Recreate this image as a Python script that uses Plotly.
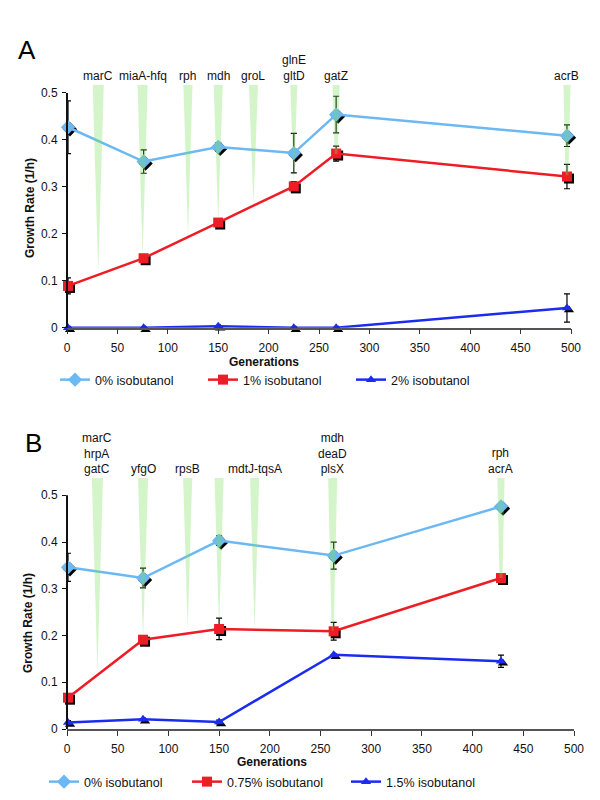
import plotly.graph_objects as go

W, H = 600, 800

# ---------------- Panel A data ----------------
gen_A = [1, 76, 150, 225, 267, 496]
rate0_A = [0.427, 0.354, 0.385, 0.372, 0.454, 0.409]
err0_A = [0.056, 0.025, 0.009, 0.042, 0.039, 0.023]
rate1_A = [0.089, 0.148, 0.224, 0.301, 0.371, 0.322]
err1_A = [0.017, 0.005, 0.008, 0.010, 0.016, 0.026]
rate2_A = [0.0, 0.0, 0.003, 0.0, 0.0, 0.042]
err2_A = [0.0, 0.0, 0.0, 0.0, 0.0, 0.030]
names_A = ["0% isobutanol", "1% isobutanol", "2% isobutanol"]

mut_labels_A = ["marC", "miaA-hfq", "rph", "mdh", "groL", "glnE<br>gltD", "gatZ", "acrB"]
mut_gen_A = [31, 75, 120, 150, 185, 225, 267, 496]
mut_end_A = [0.116, 0.151, 0.194, 0.226, 0.262, 0.300, 0.370, 0.325]

# ---------------- Panel B data ----------------
gen_B = [1, 75, 150, 263, 428]
rate0_B = [0.346, 0.323, 0.403, 0.371, 0.476]
err0_B = [0.030, 0.021, 0.010, 0.029, 0.0]
rate1_B = [0.067, 0.191, 0.214, 0.209, 0.323]
err1_B = [0.0, 0.004, 0.023, 0.019, 0.0]
rate2_B = [0.014, 0.021, 0.015, 0.159, 0.145]
err2_B = [0.004, 0.0, 0.004, 0.0, 0.013]
names_B = ["0% isobutanol", "0.75% isobutanol", "1.5% isobutanol"]

mut_labels_B = ["marC<br>hrpA<br>gatC", "yfgO", "rpsB", "", "mdtJ-tqsA", "mdh<br>deaD<br>plsX", "rph<br>acrA"]
mut_gen_B = [30, 75, 119, 150, 185, 262, 428]
mut_end_B = [0.123, 0.190, 0.212, 0.212, 0.213, 0.210, 0.323]

x_ticks = [0, 50, 100, 150, 200, 250, 300, 350, 400, 450, 500]
y_ticks = [0, 0.1, 0.2, 0.3, 0.4, 0.5]
y_ticktext = ["0", "0.1", "0.2", "0.3", "0.4", "0.5"]

# ---------------- styles ----------------
FONT = "Liberation Sans, Arial, Helvetica, sans-serif"
COLORS = ["#6cb8f2", "#ee1c25", "#1b2cf0"]
SYMBOLS = ["diamond", "square", "triangle-up"]
SIZES = [11, 10, 9]
WEDGE_FILL = "rgba(120,225,90,0.32)"
wedge_top_w_A = [11, 10, 9, 9, 9, 7, 7, 7]
wedge_bot_w_A = [0, 0, 0, 0, 0, 0, 3, 3]
wedge_top_w_B = [11, 10, 9, 9, 9, 9, 7]
wedge_bot_w_B = [0, 0, 0, 0, 0, 2, 3]

# pixel geometry of the panels
PANELS = {
    "A": dict(left=67, right=571, bottom=327.7, top=85, ytop=0.517),
    "B": dict(left=67, right=574, bottom=729, top=478, ytop=0.537),
}
SHADOW_DX, SHADOW_DY = 2, 2


def xdom(l, r):
    return [l / W, r / W]


def ydom(t, b):
    return [1 - b / H, 1 - t / H]


fig = go.Figure()


def add_panel(key, shadow_ax, main_ax, gens, rates, errs, names, legends,
              mut_gen, mut_end, mut_labels, wtop, wbot):
    p = PANELS[key]
    sx, sy = ("x" if shadow_ax == 1 else f"x{shadow_ax}"), ("y" if shadow_ax == 1 else f"y{shadow_ax}")
    mx, my = f"x{main_ax}", f"y{main_ax}"
    # shadow markers (drawn first, on shifted hidden axes)
    for i in range(3):
        fig.add_trace(go.Scatter(
            x=gens, y=rates[i], mode="markers", xaxis=sx, yaxis=sy,
            marker=dict(symbol=SYMBOLS[i], size=SIZES[i], color="black"),
            showlegend=False, hoverinfo="skip", cliponaxis=False))
    # main series
    for i in range(3):
        fig.add_trace(go.Scatter(
            x=gens, y=rates[i], mode="lines+markers", xaxis=mx, yaxis=my,
            name=names[i], legend=legends[i],
            line=dict(color=COLORS[i], width=2.5),
            marker=dict(symbol=SYMBOLS[i], size=SIZES[i], color=COLORS[i]),
            error_y=dict(type="data", array=errs[i], visible=True,
                         color="black", thickness=1.2, width=3),
            cliponaxis=False))
    # mutation wedges (translucent, on top)
    top = p["ytop"]
    for g, e, wt, wb in zip(mut_gen, mut_end, wtop, wbot):
        fig.add_trace(go.Scatter(
            x=[g - wt / 2, g + wt / 2, g + wb / 2, g - wb / 2, g - wt / 2],
            y=[top, top, e, e, top], mode="lines", fill="toself",
            fillcolor=WEDGE_FILL, line=dict(width=0),
            xaxis=mx, yaxis=my, showlegend=False, hoverinfo="skip"))
    for g, lab in zip(mut_gen, mut_labels):
        if lab:
            fig.add_annotation(x=g, y=top, xref=mx, yref=my, text=lab,
                               showarrow=False, xanchor="center", yanchor="bottom",
                               font=dict(family=FONT, size=12, color="#111"))


add_panel("A", 1, 2, gen_A, [rate0_A, rate1_A, rate2_A], [err0_A, err1_A, err2_A],
          names_A, ["legend", "legend2", "legend3"],
          mut_gen_A, mut_end_A, mut_labels_A, wedge_top_w_A, wedge_bot_w_A)
add_panel("B", 3, 4, gen_B, [rate0_B, rate1_B, rate2_B], [err0_B, err1_B, err2_B],
          names_B, ["legend4", "legend5", "legend6"],
          mut_gen_B, mut_end_B, mut_labels_B, wedge_top_w_B, wedge_bot_w_B)

tickfont = dict(family=FONT, size=12, color="#111")
layout_axes = {}
for key, s, m in (("A", 1, 2), ("B", 3, 4)):
    p = PANELS[key]
    xd = xdom(p["left"], p["right"])
    yd = ydom(p["top"], p["bottom"])
    xds = xdom(p["left"] + SHADOW_DX, p["right"] + SHADOW_DX)
    yds = ydom(p["top"] + SHADOW_DY, p["bottom"] + SHADOW_DY)
    sxn = "xaxis" if s == 1 else f"xaxis{s}"
    syn = "yaxis" if s == 1 else f"yaxis{s}"
    layout_axes[sxn] = dict(domain=xds, range=[0, 500], visible=False, anchor="y" if s == 1 else f"y{s}")
    layout_axes[syn] = dict(domain=yds, range=[0, p["ytop"]], visible=False, anchor="x" if s == 1 else f"x{s}")
    layout_axes[f"xaxis{m}"] = dict(
        domain=xd, range=[0, 500], anchor=f"y{m}", tickvals=x_ticks,
        showline=True, linecolor="#555", linewidth=1.5, ticks="outside",
        ticklen=5, tickcolor="#333", tickwidth=1, showgrid=False, zeroline=False,
        tickfont=tickfont, automargin=False, ticklabelstandoff=3)
    layout_axes[f"yaxis{m}"] = dict(
        domain=yd, range=[0, p["ytop"]], anchor=f"x{m}", tickvals=y_ticks,
        ticktext=y_ticktext, showline=False, ticks="outside", ticklen=4,
        tickcolor="#111", tickwidth=1.2, showgrid=False, zeroline=False,
        tickfont=tickfont, automargin=False, ticklabelstandoff=2)
    # y axis line stopping at 0.5
    y0p = yd[0]
    y1p = yd[0] + (0.5 / p["ytop"]) * (yd[1] - yd[0])
    fig.add_shape(type="line", xref="paper", yref="paper", x0=xd[0], x1=xd[0],
                  y0=y0p, y1=y1p, line=dict(color="#111", width=2), layer="above")

fig.update_layout(**layout_axes)

# legends: one per entry, positioned like the original
legend_pos = {
    "legend": (97, 380), "legend2": (245, 380), "legend3": (393, 380),
    "legend4": (86, 782), "legend5": (229, 782), "legend6": (388, 782),
}
for lg, (tx, ty) in legend_pos.items():
    fig.update_layout(**{lg: dict(x=(tx - 42) / W, y=1 - ty / H, xanchor="left",
                                  yanchor="middle", bgcolor="rgba(0,0,0,0)",
                                  borderwidth=0, orientation="h",
                                  font=dict(family=FONT, size=12.5, color="#111"))})

# axis titles and panel letters
bold = dict(family=FONT, size=12, color="#111")
for txt, x, y in (("Generations", 264, 362), ("Generations", 272, 762)):
    fig.add_annotation(text=f"<b>{txt}</b>", x=x / W, y=1 - y / H, xref="paper",
                       yref="paper", showarrow=False, xanchor="center",
                       yanchor="middle", font=bold)
for x, y in ((30, 208), (28, 623)):
    fig.add_annotation(text="<b>Growth Rate (1/h)</b>", x=x / W, y=1 - y / H,
                       xref="paper", yref="paper", showarrow=False,
                       xanchor="center", yanchor="middle",
                       textangle=-90, font=bold)
for txt, x, y in (("A", 27, 50), ("B", 33, 443)):
    fig.add_annotation(text=txt, x=x / W, y=1 - y / H, xref="paper", yref="paper",
                       showarrow=False, xanchor="center", yanchor="middle",
                       font=dict(family=FONT, size=26, color="black"))

fig.update_layout(width=W, height=H,
                  margin=dict(l=0, r=0, t=0, b=0, pad=0, autoexpand=False),
                  paper_bgcolor="white", plot_bgcolor="rgba(0,0,0,0)",
                  hovermode=False)

fig.write_html(
    "out.html",
    config={"responsive": False, "displayModeBar": False},
    post_script="document.body.style.margin='0';document.body.style.padding='0';"
                "document.documentElement.style.overflow='hidden';"
                "document.body.style.overflow='hidden';",
)
